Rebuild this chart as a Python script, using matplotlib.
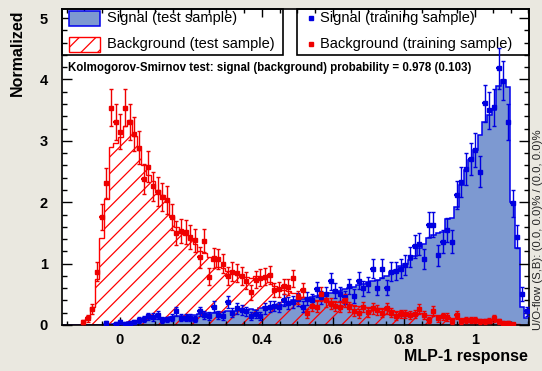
import numpy as np
import matplotlib
matplotlib.use("Agg")
import matplotlib.pyplot as plt
from matplotlib.patches import Rectangle
from matplotlib.ticker import MultipleLocator

plt.rcParams["font.family"] = ["Liberation Sans", "DejaVu Sans"]
plt.rcParams["hatch.linewidth"] = 0.9

# ---- binning of the classifier output ----
x_min, x_max = -0.163, 1.152
n_bins = 100
edges = np.linspace(x_min, x_max, n_bins + 1)
centers = 0.5 * (edges[:-1] + edges[1:])
half_bin = 0.5 * (edges[1] - edges[0])

# ---- normalised histograms (test samples) ----
sig_test = [
    0, 0, 0, 0, 0, 0, 0, 0, 0, 0.01,
    0.02, 0.02, 0.03, 0.04, 0.05, 0.05, 0.07, 0.08, 0.09, 0.10,
    0.10, 0.11, 0.12, 0.13, 0.14, 0.15, 0.15, 0.16, 0.17, 0.18,
    0.19, 0.19, 0.20, 0.21, 0.21, 0.22, 0.23, 0.23, 0.24, 0.25,
    0.26, 0.25, 0.28, 0.30, 0.29, 0.31, 0.34, 0.33, 0.36, 0.40,
    0.40, 0.42, 0.44, 0.45, 0.47, 0.49, 0.50, 0.52, 0.54, 0.56,
    0.58, 0.60, 0.62, 0.65, 0.67, 0.70, 0.72, 0.73, 0.76, 0.80,
    0.86, 0.90, 0.96, 0.99, 1.06, 1.12, 1.26, 1.32, 1.42, 1.46,
    1.50, 1.52, 1.72, 1.74, 1.93, 2.28, 2.52, 2.69, 2.85, 3.10,
    3.31, 3.42, 3.50, 3.90, 3.99, 3.87, 2.00, 1.25, 0.30, 0.12,
]
bkg_test = [
    0, 0, 0, 0, 0.03, 0.12, 0.30, 0.75, 1.42, 2.05,
    2.90, 2.97, 3.07, 3.24, 3.34, 3.08, 2.85, 2.60, 2.45, 2.35,
    2.20, 2.12, 2.02, 1.78, 1.60, 1.50, 1.46, 1.38, 1.32, 1.20,
    1.17, 1.10, 1.05, 0.95, 0.93, 0.88, 0.85, 0.82, 0.80, 0.78,
    0.76, 0.80, 0.78, 0.75, 0.70, 0.64, 0.60, 0.57, 0.55, 0.52,
    0.50, 0.46, 0.44, 0.42, 0.41, 0.40, 0.40, 0.39, 0.38, 0.37,
    0.36, 0.34, 0.33, 0.31, 0.30, 0.29, 0.28, 0.27, 0.26, 0.25,
    0.24, 0.23, 0.22, 0.21, 0.20, 0.19, 0.19, 0.18, 0.17, 0.16,
    0.15, 0.14, 0.13, 0.12, 0.12, 0.11, 0.10, 0.10, 0.09, 0.08,
    0.08, 0.07, 0.07, 0.06, 0.05, 0.04, 0.03, 0.02, 0, 0,
]

# ---- normalised histograms (training samples, drawn as points) ----
sig_train = [
    0, 0, 0, 0, 0, 0, 0, 0, 0, 0.03,
    0, 0.02, 0.05, 0.02, 0.04, 0.05, 0.08, 0.10, 0.14, 0.13,
    0.16, 0.08, 0.09, 0.12, 0.22, 0.12, 0.12, 0.12, 0.10, 0.22,
    0.16, 0.15, 0.30, 0.17, 0.15, 0.37, 0.20, 0.27, 0.25, 0.22,
    0.15, 0.18, 0.15, 0.27, 0.30, 0.31, 0.29, 0.41, 0.36, 0.38,
    0.42, 0.30, 0.43, 0.40, 0.58, 0.45, 0.50, 0.71, 0.56, 0.51,
    0.45, 0.63, 0.47, 0.72, 0.60, 0.66, 0.92, 0.61, 0.92, 0.61,
    0.87, 0.88, 0.92, 0.98, 1.11, 1.28, 1.32, 1.07, 1.63, 1.63,
    1.14, 1.36, 1.55, 1.36, 2.12, 2.33, 2.54, 2.71, 2.85, 2.50,
    3.61, 3.50, 3.55, 4.18, 3.98, 3.31, 1.98, 1.44, 0.50, 0.22,
]
bkg_train = [
    0, 0, 0, 0, 0.05, 0.11, 0.26, 0.87, 1.76, 2.32,
    3.54, 3.31, 3.15, 3.54, 3.31, 3.11, 2.89, 2.38, 2.58, 2.26,
    2.17, 2.09, 2.03, 1.76, 1.50, 1.53, 1.52, 1.43, 1.38, 1.10,
    1.37, 0.79, 1.09, 1.07, 1.00, 0.80, 0.87, 0.84, 0.80, 0.72,
    0.53, 0.74, 0.77, 0.79, 0.81, 0.57, 0.58, 0.63, 0.62, 0.76,
    0.45, 0.57, 0.19, 0.31, 0.30, 0.50, 0.40, 0.35, 0.31, 0.30,
    0.40, 0.29, 0.23, 0.19, 0.29, 0.21, 0.27, 0.24, 0.20, 0.27,
    0.20, 0.15, 0.18, 0.18, 0.17, 0.18, 0.26, 0.17, 0.08, 0.23,
    0.11, 0.14, 0.13, 0.06, 0.16, 0.06, 0.08, 0.08, 0.08, 0.06,
    0.06, 0.07, 0.11, 0.06, 0.04, 0.03, 0.01, 0, 0, 0,
]

# weight of a single training event after normalisation (Poisson errors)
event_weight = 0.0256

ks_text = "Kolmogorov-Smirnov test: signal (background) probability = 0.978 (0.103)"
flow_text = "U/O-flow (S,B): (0.0, 0.0)% / (0.0, 0.0)%"

SIG_FILL = "#7d99d1"
SIG_LINE = "#0000ee"
SIG_PT = "#0000e0"
BKG_LINE = "#ff0000"
BKG_PT = "#ee0000"
CANVAS = "#eae8e0"

W, H = 542, 371
fig = plt.figure(figsize=(W / 100, H / 100), dpi=100, facecolor=CANVAS)


def fx(px):
    return px / W


def fy(py):
    return 1 - py / H


ax = fig.add_axes([fx(62), fy(325), fx(529) - fx(62), fy(8.6) - fy(325)])
ax.set_xlim(x_min, x_max)
ax.set_ylim(0, 5.155)

# test-sample histograms
ax.stairs(sig_test, edges, fill=True, facecolor=SIG_FILL, edgecolor="none", zorder=1.0)
ax.stairs(sig_test, edges, fill=False, color=SIG_LINE, lw=1.1, zorder=1.05)
ax.stairs(bkg_test, edges, fill=True, facecolor="none", edgecolor=BKG_LINE,
          hatch="//", lw=1.0, zorder=1.1)


def draw_points(vals, color):
    v = np.asarray(vals, dtype=float)
    keep = v > 0
    xc, yv = centers[keep], v[keep]
    err = np.sqrt(yv * event_weight)
    ax.errorbar(xc, yv, yerr=err, fmt="none", ecolor=color, elinewidth=1.0,
                capsize=1.3, capthick=1.0, zorder=3)
    ax.errorbar(xc, yv, xerr=half_bin, fmt="s", color=color, ms=2.8,
                mec=color, elinewidth=1.6, capsize=0, zorder=3.1)


draw_points(sig_train, SIG_PT)
draw_points(bkg_train, BKG_PT)

# axes style
for s in ax.spines.values():
    s.set_linewidth(1.2)
ax.xaxis.set_major_locator(MultipleLocator(0.2))
ax.xaxis.set_minor_locator(MultipleLocator(0.05))
ax.yaxis.set_major_locator(MultipleLocator(1))
ax.yaxis.set_minor_locator(MultipleLocator(0.2))
ax.tick_params(which="both", direction="in", top=True, right=True, width=1.0)
ax.tick_params(axis="x", which="major", length=5.5, pad=5.5, labelsize=10.5)
ax.tick_params(axis="x", which="minor", length=3)
ax.tick_params(axis="y", which="major", length=7, pad=10, labelsize=10.5)
ax.tick_params(axis="y", which="minor", length=3.5)
ax.xaxis.set_major_formatter(plt.FuncFormatter(lambda v, p: f"{v:g}" if abs(v) > 1e-9 else "0"))
ax.yaxis.set_major_formatter(plt.FuncFormatter(lambda v, p: f"{v:g}"))
for lab in ax.get_xticklabels() + ax.get_yticklabels():
    lab.set_fontweight("bold")

fig.text(fx(528), fy(357), "MLP-1 response", ha="right", va="center",
         fontsize=11.5, fontweight="bold")
fig.text(fx(17), fy(9), "Normalized", ha="center", va="top", rotation=90,
         fontsize=11.5, fontweight="bold")


# legend boxes (under the training points, under the frame ticks)
def box(x0, y0, x1, y1, **kw):
    ax.add_patch(Rectangle((fx(x0), fy(y1)), fx(x1) - fx(x0), fy(y0) - fy(y1),
                           transform=fig.transFigure, clip_on=False, **kw))


box(62, 8.6, 283, 55, facecolor="white", edgecolor="black", lw=1.2, zorder=1.5)
box(297, 8.6, 529, 55, facecolor="white", edgecolor="black", lw=1.2, zorder=1.5)
box(69, 11, 100, 26, facecolor=SIG_FILL, edgecolor=SIG_LINE, lw=1.1, zorder=1.6)
box(69, 37, 100, 52, facecolor="white", edgecolor=BKG_LINE, hatch="//", lw=1.0, zorder=1.6)

leg_kw = dict(transform=fig.transFigure, fontsize=10.5, va="center", ha="left", zorder=1.7)
ax.text(fx(107), fy(18), "Signal (test sample)", **leg_kw)
ax.text(fx(107), fy(44), "Background (test sample)", **leg_kw)
ax.text(fx(320), fy(18), "Signal (training sample)", **leg_kw)
ax.text(fx(320), fy(44), "Background (training sample)", **leg_kw)
ax.plot([fx(311)], [fy(18)], "s", ms=2.8, color=SIG_PT, transform=fig.transFigure,
        clip_on=False, zorder=1.7)
ax.plot([fx(311)], [fy(44)], "s", ms=2.8, color=BKG_PT, transform=fig.transFigure,
        clip_on=False, zorder=1.7)

fig.text(fx(68), fy(68), ks_text, ha="left", va="center", fontsize=8.3, fontweight="bold")
fig.text(fx(538), fy(330), flow_text, ha="center", va="bottom", rotation=90,
         fontsize=8.2, color="#222222")

fig.savefig("out.png", dpi=100, facecolor=CANVAS)
